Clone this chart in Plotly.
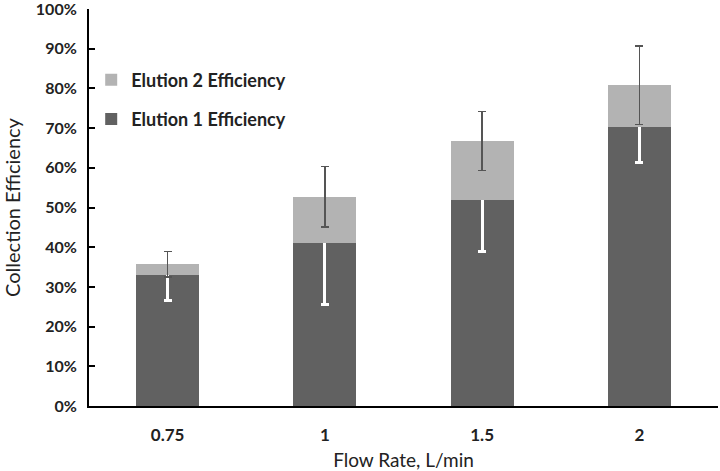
import plotly.graph_objects as go

categories = ["0.75", "1", "1.5", "2"]
elution1 = [33.0, 41.0, 52.0, 70.25]
elution1_err = [6.5, 15.5, 13.0, 9.0]
elution2 = [2.75, 11.75, 14.75, 10.55]
elution2_err = [3.2, 7.6, 7.4, 9.9]
tick_vals = [0, 10, 20, 30, 40, 50, 60, 70, 80, 90, 100]
tick_text = [f"{v}%" for v in tick_vals]

fig = go.Figure()
fig.add_trace(go.Bar(
    x=categories, y=elution1, name="Elution 1 Efficiency",
    marker=dict(color="#616161", line=dict(width=0)),
    error_y=dict(type="data", array=elution1_err, color="white", thickness=3, width=4),
    legendgroup="e1", legendrank=2,
))
fig.add_trace(go.Bar(
    x=categories, y=elution2, name="Elution 2 Efficiency",
    marker=dict(color="#b3b3b3", line=dict(width=0)),
    error_y=dict(type="data", array=elution2_err, color="#555555", thickness=1.6, width=4),
    legendgroup="e2", legendrank=1,
))

fig.update_layout(
    width=720, height=471,
    margin=dict(l=89, r=2, t=9, b=65, autoexpand=False),
    barmode="stack", bargap=0.6,
    plot_bgcolor="white", paper_bgcolor="white",
    font=dict(family="Lato", size=17, color="#222222"),
    showlegend=True,
    legend=dict(
        x=0.0035, y=0.772, xanchor="left", yanchor="middle",
        traceorder="grouped", tracegroupgap=13,
        font=dict(family="Lato", size=18, color="#222222", weight="bold"),
        bgcolor="rgba(0,0,0,0)", itemwidth=30,
    ),
    xaxis=dict(
        showline=True, linecolor="black", linewidth=2, automargin=False,
        ticks="", ticklabelstandoff=13,
        tickfont=dict(family="Lato", size=17, weight="bold", color="#222222"),
        title=dict(text="Flow Rate, L/min", font=dict(family="Lato", size=19, color="#222222"), standoff=14),
    ),
    yaxis=dict(
        range=[0, 100], tickvals=tick_vals, ticktext=tick_text,
        showline=True, linecolor="black", linewidth=2, automargin=False,
        ticks="inside", ticklen=6, tickcolor="black", tickwidth=1.5,
        ticklabelstandoff=7, ticklabeloverflow="allow",
        showgrid=False, zeroline=False,
        tickfont=dict(family="Lato", size=16, weight="bold", color="#222222"),
        title=dict(text="Collection Efficiency", font=dict(family="Lato", size=20, color="#222222"), standoff=15),
    ),
)

fig.write_html("out.html", config={"displayModeBar": False},
               post_script="document.body.style.margin='0';")
